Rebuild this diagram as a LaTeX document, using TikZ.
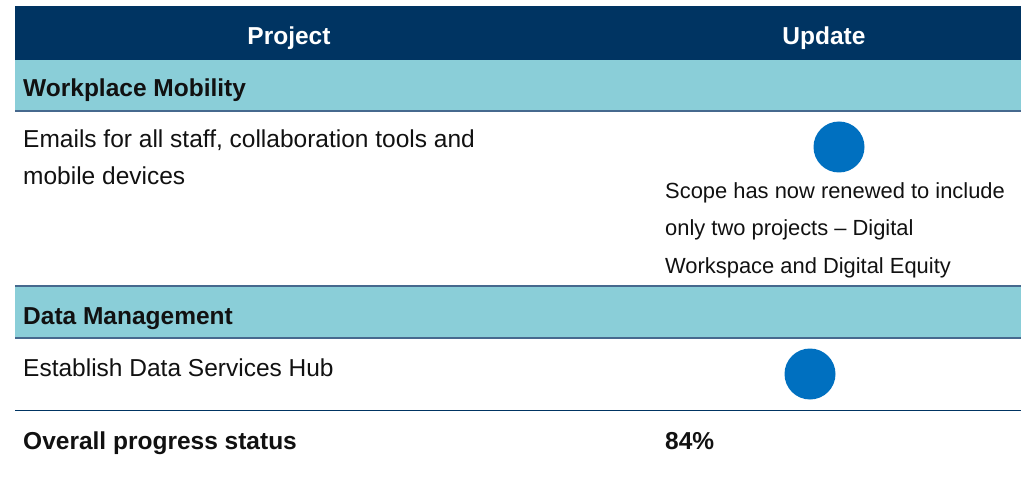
\documentclass[tikz,border=0pt]{standalone}
\usepackage{fontspec}
\setmainfont{Liberation Sans}
\definecolor{navy}{HTML}{003462}
\definecolor{teal}{HTML}{8ACED8}
\definecolor{rule}{HTML}{46698E}
\definecolor{dot}{HTML}{0070C0}
\definecolor{ink}{HTML}{111111}
\begin{document}
\begin{tikzpicture}[x=1pt,y=-1pt,
  txt/.style={font=\fontsize{24.5}{37}\selectfont,text=ink,inner sep=0pt,anchor=base west},
  stxt/.style={txt,font=\fontsize{21.9}{37}\selectfont},
  btxt/.style={txt,font=\fontsize{24.5}{37}\selectfont\bfseries},
  head/.style={font=\fontsize{24.5}{37}\selectfont\bfseries,text=white,inner sep=0pt,anchor=base},
  rulebar/.style={draw=rule,line width=2pt},
  dotc/.style={circle,fill=dot,minimum size=51pt,inner sep=0pt}]
\useasboundingbox (0,0) rectangle (1027,478);
% header
\fill[navy] (15,6) rectangle (1021,60);
\node[head] (hp) at (289,45) {Project};
\node[head] (hu) at (824,45) {Update};
% band 1
\fill[teal] (15,60) rectangle (1021,110);
\draw[rulebar] (15,111) -- (1021,111);
\node[btxt] (wm) at (23,97) {Workplace Mobility};
% row 1
\node[txt] (r1a) at (23,148) {Emails for all staff, collaboration tools and};
\node[txt] (r1b) at (23,185) {mobile devices};
\node[dotc] (d1) at (839,147) {};
\node[stxt] (u1a) at (665,199) {Scope has now renewed to include};
\node[stxt] (u1b) at (665,236) {only two projects – Digital};
\node[stxt] (u1c) at (665,273) {Workspace and Digital Equity};
% band 2
\fill[teal] (15,286) rectangle (1021,337);
\draw[rulebar] (15,286) -- (1021,286);
\draw[rulebar] (15,337.5) -- (1021,337.5);
\node[btxt] (dm) at (23,324) {Data Management};
% row 2
\node[txt] (r2a) at (23,376) {Establish Data Services Hub};
\node[dotc] (d2) at (810,374) {};
\draw[navy,line width=1.6pt] (15,410.5) -- (1021,410.5);
% overall
\node[btxt] (ov) at (23,449) {Overall progress status};
\node[btxt] (pc) at (665,449) {84\%};
\end{tikzpicture}
\end{document}
